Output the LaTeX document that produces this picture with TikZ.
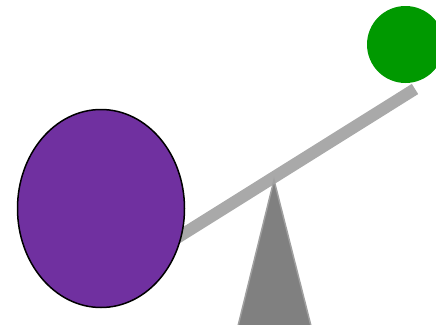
\documentclass[tikz,border=0pt]{standalone}
\definecolor{beamgray}{HTML}{A9A9A9}
\definecolor{basegray}{HTML}{808080}
\definecolor{baseedge}{HTML}{A0A0A0}
\definecolor{ballpurple}{HTML}{7030A0}
\definecolor{ballgreen}{HTML}{009900}
\begin{document}
\begin{tikzpicture}[x=1pt,y=-1pt,
  beam/.style={draw=beamgray,line width=12pt},
  fulcrum/.style={fill=basegray,draw=baseedge,line width=1.5pt,line join=miter},
  bigball/.style={fill=ballpurple,draw=black,line width=1.5pt},
  smallball/.style={fill=ballgreen}]
\useasboundingbox (0,0) rectangle (436,324);
\begin{scope}
\clip (0,0) rectangle (436,324);
\coordinate (apex) at (274,180);
\coordinate (bl) at (238,326);
\coordinate (br) at (311,326);
\coordinate (beamL) at (140,261);
\coordinate (beamR) at (415,89);
\draw[beam] (beamL) -- (beamR);
\draw[fulcrum] (apex) -- (br) -- (bl) -- cycle;
\draw[bigball] (101,208.5) ellipse [x radius=83.5, y radius=99];
\fill[smallball] (405.5,44.5) circle [radius=38.5];
\end{scope}
\end{tikzpicture}
\end{document}
